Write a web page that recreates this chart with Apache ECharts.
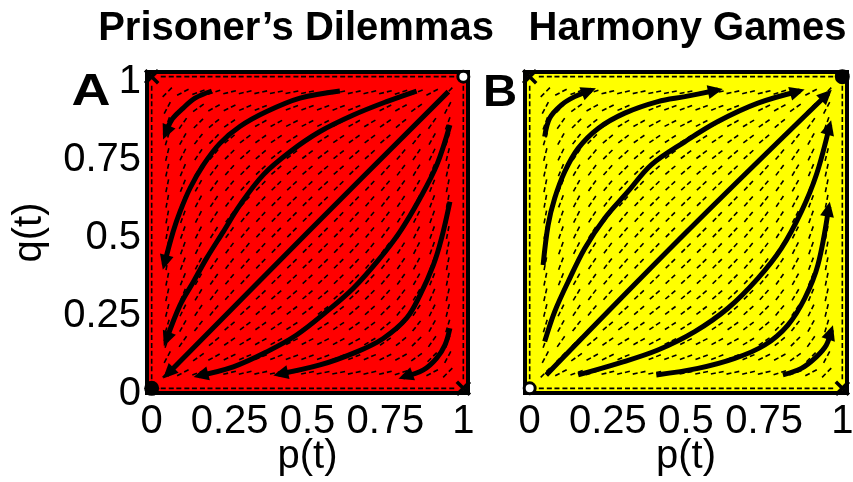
<!DOCTYPE html>
<html><head><meta charset="utf-8">
<script src="https://cdn.jsdelivr.net/npm/echarts@6/dist/echarts.min.js"></script>
<style>html,body{margin:0;padding:0;background:#fff}#c{width:853px;height:482px}</style>
</head><body><div id="c"></div>
<script>
// ---------- data ----------
const tickValues = [0, 0.25, 0.5, 0.75, 1];
const fieldGrid = [0, 0.05, 0.1, 0.15, 0.2, 0.25, 0.3, 0.35, 0.4, 0.45, 0.5, 0.55, 0.6, 0.65, 0.7, 0.75, 0.8, 0.85, 0.9, 0.95, 1];
// dash orientation (degrees from the p axis); rows from q=1 (top) to q=0 (bottom), columns p=0..1
const fieldAnglesDeg = [
  [null,0,0,0,0,0,0,0,0,0,0,0,0,0,0,0,0,0,0,0,null],
  [90,45,28,20,17,14,13,12,11,11,11,11,11,12,13,14,17,20,28,45,90],
  [90,62,45,35,29,26,23,22,21,20,20,20,21,22,23,26,29,35,45,62,90],
  [90,70,55,45,39,34,31,29,28,27,27,27,28,29,31,34,39,45,55,70,90],
  [90,73,61,52,45,40,37,35,34,33,33,33,34,35,37,40,45,52,61,73,90],
  [90,76,64,56,50,45,42,40,38,37,37,37,38,40,42,45,50,56,64,76,90],
  [90,77,67,59,53,48,45,43,41,40,40,40,41,43,45,48,53,59,67,77,90],
  [90,78,68,61,55,50,47,45,44,43,42,43,44,45,47,50,55,61,68,78,90],
  [90,79,69,62,56,52,49,46,45,44,44,44,45,46,49,52,56,62,69,79,90],
  [90,79,70,63,57,53,50,47,46,45,45,45,46,47,50,53,57,63,70,79,90],
  [90,79,70,63,57,53,50,48,46,45,45,45,46,48,50,53,57,63,70,79,90],
  [90,79,70,63,57,53,50,47,46,45,45,45,46,47,50,53,57,63,70,79,90],
  [90,79,69,62,56,52,49,46,45,44,44,44,45,46,49,52,56,62,69,79,90],
  [90,78,68,61,55,50,47,45,44,43,42,43,44,45,47,50,55,61,68,78,90],
  [90,77,67,59,53,48,45,43,41,40,40,40,41,43,45,48,53,59,67,77,90],
  [90,76,64,56,50,45,42,40,38,37,37,37,38,40,42,45,50,56,64,76,90],
  [90,73,61,52,45,40,37,35,34,33,33,33,34,35,37,40,45,52,61,73,90],
  [90,70,55,45,39,34,31,29,28,27,27,27,28,29,31,34,39,45,55,70,90],
  [90,62,45,35,29,26,23,22,21,20,20,20,21,22,23,26,29,35,45,62,90],
  [90,45,28,20,17,14,13,12,11,11,11,11,11,12,13,14,17,20,28,45,90],
  [null,0,0,0,0,0,0,0,0,0,0,0,0,0,0,0,0,0,0,0,null]
];
// Prisoner's Dilemmas trajectories [p, q], in the direction of motion
const pdTrajectories = [
  [[0.193,0.954],[0.139,0.931],[0.101,0.899],[0.064,0.861],[0.043,0.813]],
  [[0.604,0.954],[0.476,0.931],[0.369,0.888],[0.283,0.840],[0.219,0.786],[0.166,0.717],[0.123,0.642],[0.091,0.567],[0.069,0.503],[0.040,0.396]],
  [[0.850,0.954],[0.754,0.920],[0.647,0.877],[0.540,0.824],[0.444,0.759],[0.358,0.685],[0.283,0.588],[0.230,0.503],[0.176,0.417],[0.134,0.342],[0.091,0.267],[0.045,0.150]],
  [[0.952,0.952],[0.5,0.5],[0.048,0.043]],
  [[0.957,0.845],[0.915,0.717],[0.861,0.610],[0.797,0.503],[0.732,0.417],[0.647,0.321],[0.561,0.246],[0.465,0.171],[0.369,0.117],[0.262,0.069],[0.150,0.040]],
  [[0.957,0.599],[0.930,0.481],[0.904,0.396],[0.861,0.299],[0.818,0.225],[0.743,0.160],[0.658,0.117],[0.540,0.075],[0.406,0.045]],
  [[0.957,0.193],[0.941,0.139],[0.914,0.096],[0.872,0.059],[0.807,0.036]]
];
// Harmony Games trajectories [p, q]
const hgTrajectories = [
  [[0.048,0.808],[0.064,0.867],[0.101,0.909],[0.144,0.936],[0.197,0.957]],
  [[0.043,0.396],[0.059,0.524],[0.080,0.610],[0.112,0.695],[0.155,0.770],[0.219,0.834],[0.304,0.883],[0.410,0.920],[0.496,0.936],[0.602,0.957]],
  [[0.048,0.150],[0.080,0.246],[0.123,0.342],[0.176,0.449],[0.240,0.546],[0.314,0.631],[0.389,0.717],[0.496,0.791],[0.602,0.856],[0.730,0.915],[0.864,0.954]],
  [[0.053,0.043],[0.5,0.5],[0.955,0.947]],
  [[0.155,0.043],[0.283,0.080],[0.410,0.123],[0.528,0.182],[0.634,0.257],[0.730,0.353],[0.805,0.449],[0.869,0.567],[0.917,0.685],[0.960,0.845]],
  [[0.405,0.043],[0.538,0.064],[0.656,0.096],[0.752,0.139],[0.826,0.203],[0.880,0.289],[0.922,0.396],[0.957,0.583]],
  [[0.810,0.043],[0.869,0.064],[0.917,0.101],[0.949,0.139],[0.965,0.187]]
];
// fixed points at the corners: [p, q, kind]
const pdFixedPoints = [[0,1,'cross'],[1,1,'open'],[0,0,'filled'],[1,0,'cross']];
const hgFixedPoints = [[0,1,'cross'],[1,1,'filled'],[0,0,'open'],[1,0,'cross']];
const panelTitles = ['Prisoner’s Dilemmas', 'Harmony Games'];
const panelLetters = ['A', 'B'];
const panelColors = ['#ff0000', '#ffff00'];

// ---------- chart ----------
const FONT = '"Liberation Sans", Arial, Helvetica, sans-serif';
const chart = echarts.init(document.getElementById('c'), null, {renderer: 'canvas'});

const fieldData = [];
fieldAnglesDeg.forEach((row, r) => row.forEach((ang, c) => {
  if (ang !== null) fieldData.push([fieldGrid[c], fieldGrid[fieldGrid.length - 1 - r], ang]);
}));

function fieldRender(params, api) {
  const c = api.coord([api.value(0), api.value(1)]);
  const a = api.value(2) * Math.PI / 180;
  const h = 6.5;
  const dx = Math.cos(a) * h, dy = -Math.sin(a) * h;
  return {type: 'line', shape: {x1: c[0] - dx, y1: c[1] - dy, x2: c[0] + dx, y2: c[1] + dy},
    style: {stroke: '#000', lineWidth: 1.6, lineDash: [5, 3]}};
}
function headRender(params, api) {
  const t = api.coord([api.value(0), api.value(1)]);
  const p = api.coord([api.value(2), api.value(3)]);
  let ux = t[0] - p[0], uy = t[1] - p[1];
  const len = Math.hypot(ux, uy) || 1; ux /= len; uy /= len;
  const tipX = t[0] + ux * 5, tipY = t[1] + uy * 5;
  const L = 15, W = 7;
  const bx = tipX - ux * L, by = tipY - uy * L;
  return {type: 'polygon', shape: {points: [[tipX, tipY], [bx - uy * W, by + ux * W], [bx + uy * W, by - ux * W]]},
    style: {fill: '#000'}};
}
function markerRender(params, api) {
  const c = api.coord([api.value(0), api.value(1)]);
  const kind = api.value(2);
  if (kind === 1) {
    const s = 6.5;
    return {type: 'group', children: [
      {type: 'line', shape: {x1: c[0] - s, y1: c[1] - s, x2: c[0] + s, y2: c[1] + s}, style: {stroke: '#000', lineWidth: 3.5}},
      {type: 'line', shape: {x1: c[0] - s, y1: c[1] + s, x2: c[0] + s, y2: c[1] - s}, style: {stroke: '#000', lineWidth: 3.5}}
    ]};
  }
  if (kind === 2) return {type: 'circle', shape: {cx: c[0], cy: c[1], r: 5.5}, style: {fill: '#fff', stroke: '#000', lineWidth: 3}};
  return {type: 'circle', shape: {cx: c[0], cy: c[1], r: 7.5}, style: {fill: '#000'}};
}
const kindCode = {cross: 1, open: 2, filled: 3};

const grids = [
  {left: 147, top: 72, width: 321, height: 321},
  {left: 525, top: 72, width: 322, height: 321}
].map((g, i) => Object.assign(g, {show: true, backgroundColor: panelColors[i], borderColor: '#000', borderWidth: 4,
  containLabel: false, outerBoundsMode: 'none'}));

const labelStyle = {fontSize: 40, color: '#000', fontFamily: FONT};
const xAxes = [0, 1].map(i => ({
  gridIndex: i, type: 'value', min: -0.015, max: 1.015,
  axisLine: {show: false}, axisTick: {show: false}, splitLine: {show: false},
  axisLabel: Object.assign({customValues: tickValues, margin: 9, hideOverlap: false}, labelStyle),
  name: 'p(t)', nameLocation: 'middle', nameGap: 44, nameMoveOverlap: false, nameTextStyle: labelStyle
}));
const yAxes = [0, 1].map(i => ({
  gridIndex: i, type: 'value', min: -0.015, max: 1.015,
  axisLine: {show: false}, axisTick: {show: false}, splitLine: {show: false},
  axisLabel: Object.assign({show: i === 0, customValues: tickValues, margin: 6, verticalAlign: 'top', lineHeight: 11, hideOverlap: false}, labelStyle),
  name: i === 0 ? 'q(t)' : '', nameLocation: 'middle', nameRotate: 90, nameGap: 97, nameMoveOverlap: false, nameTextStyle: labelStyle
}));

const series = [];
[pdTrajectories, hgTrajectories].forEach((trajs, i) => {
  series.push({type: 'custom', xAxisIndex: i, yAxisIndex: i, data: fieldData, renderItem: fieldRender, silent: true, z: 1});
  trajs.forEach(t => series.push({type: 'line', xAxisIndex: i, yAxisIndex: i, data: t, smooth: 0.35,
    symbol: 'none', lineStyle: {color: '#000', width: 5}, silent: true, z: 3}));
  series.push({type: 'custom', xAxisIndex: i, yAxisIndex: i, silent: true, z: 4,
    data: trajs.map(t => [t[t.length - 1][0], t[t.length - 1][1], t[t.length - 2][0], t[t.length - 2][1]]),
    renderItem: headRender});
  series.push({type: 'custom', xAxisIndex: i, yAxisIndex: i, silent: true, z: 10, clip: false,
    data: (i === 0 ? pdFixedPoints : hgFixedPoints).map(d => [d[0], d[1], kindCode[d[2]]]),
    renderItem: markerRender});
});

chart.setOption({
  animation: false,
  textStyle: {fontFamily: FONT},
  grid: grids, xAxis: xAxes, yAxis: yAxes, series: series,
  graphic: [
    {type: 'text', x: 296, y: 29, style: {text: panelTitles[0], font: 'bold 40px ' + FONT, fill: '#000', align: 'center', verticalAlign: 'middle'}},
    {type: 'text', x: 687.5, y: 29, style: {text: panelTitles[1], font: 'bold 40px ' + FONT, fill: '#000', align: 'center', verticalAlign: 'middle'}},
    {type: 'text', x: 91, y: 93, scaleX: 1.2, style: {text: panelLetters[0], font: 'bold 45px ' + FONT, fill: '#000', align: 'center', verticalAlign: 'middle'}},
    {type: 'text', x: 500, y: 94, scaleX: 1.05, style: {text: panelLetters[1], font: 'bold 45px ' + FONT, fill: '#000', align: 'center', verticalAlign: 'middle'}}
  ]
});
</script></body></html>
